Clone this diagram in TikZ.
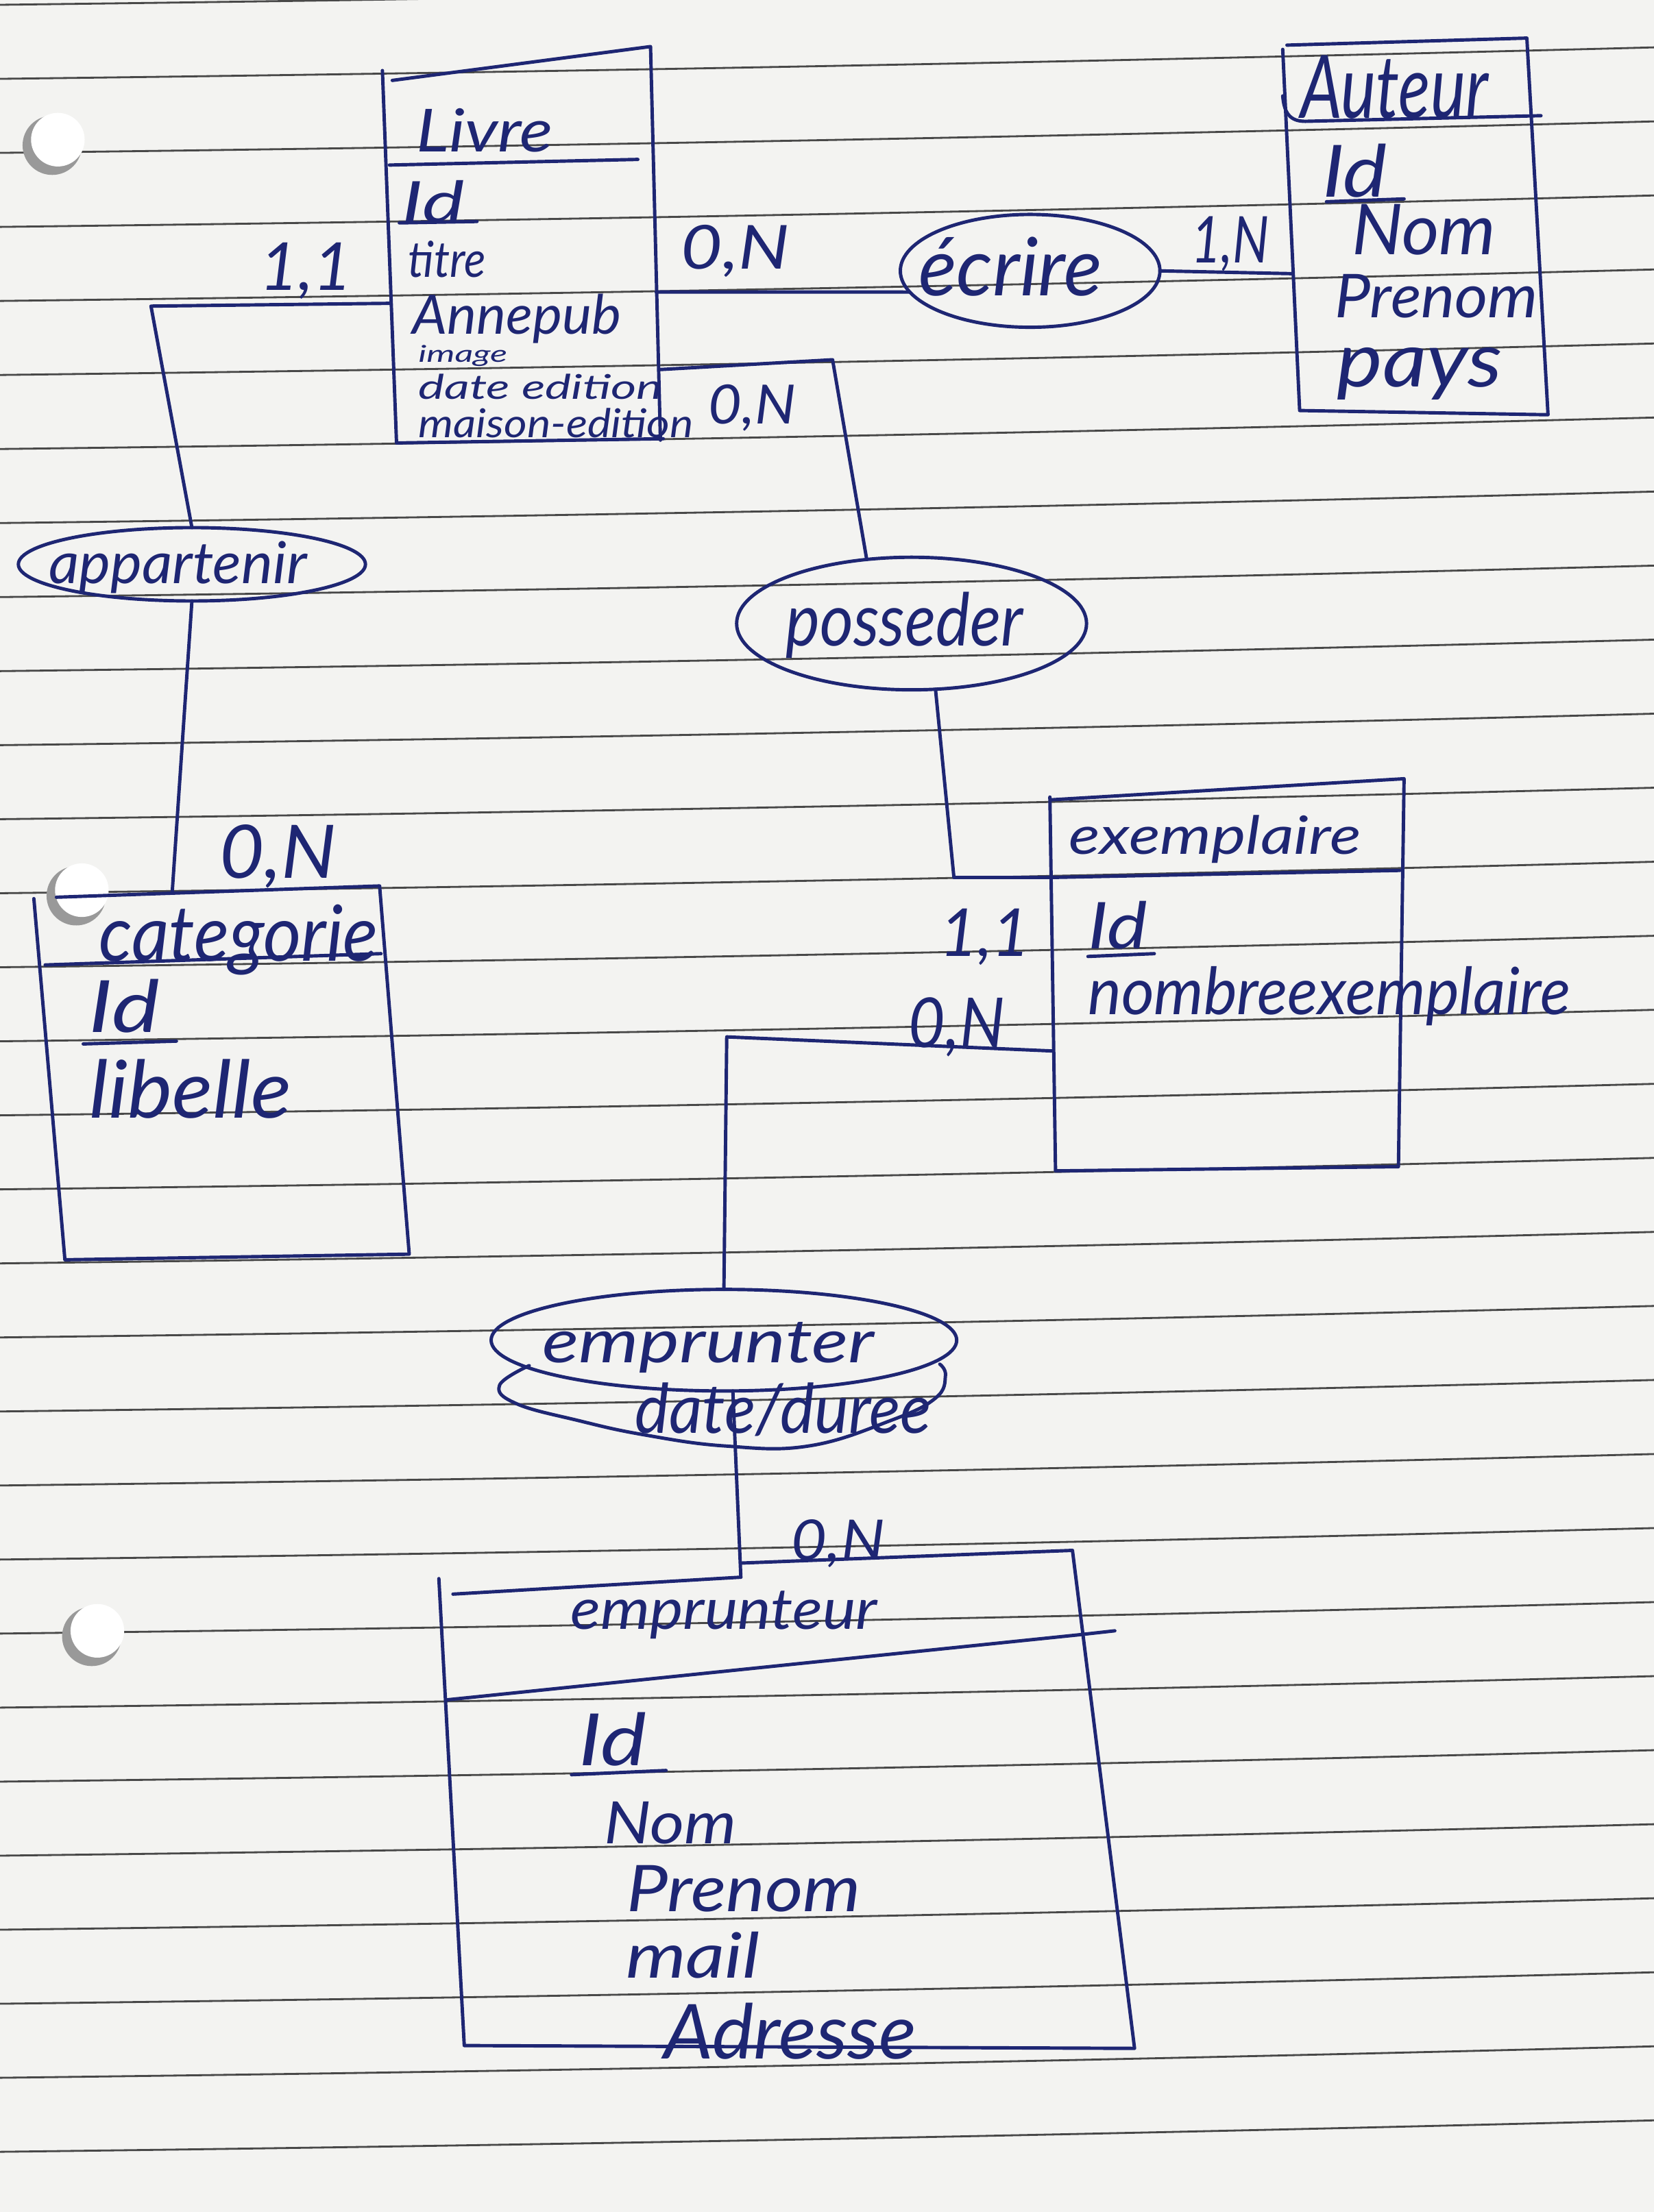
\documentclass[tikz,border=0pt]{standalone}
\usepackage{fontspec}
\setmainfont{Lato}
\usepackage{graphicx}
\usetikzlibrary{shapes.geometric}
\definecolor{ink}{RGB}{30,38,115}
\definecolor{rulegray}{RGB}{72,72,72}
\definecolor{paper}{RGB}{243,243,241}
\newlength\pxu
\setlength\pxu{0.58556pt}
\newcommand\U{0.58556pt}
% handwritten word fitted to a W x H box (in drawing units)
\newcommand\hw[3]{\resizebox*{#1\pxu}{#2\pxu}{\itshape #3}}

\begin{document}
\begin{tikzpicture}[x=0.020580cm, y=-0.020580cm,
  pen/.style={draw=ink, line width=1.4pt, line cap=round, line join=round},
  txt/.style={inner sep=0pt, outer sep=0pt, text=ink},
  rel/.style={pen, ellipse, inner sep=0pt, outer sep=0pt},
  ruled/.style={draw=rulegray, line width=0.8pt},
  hole/.style={fill=white},
  holeshade/.style={fill=black!40},
]
% sheet of ruled paper
\fill[paper] (0,0) rectangle (1172,1568);
\useasboundingbox (0,0) rectangle (1172,1568);
\foreach \k in {0,...,29} {
  \pgfmathsetmacro\yy{3.4+52.48*\k}
  \draw[ruled] (0,\yy) .. controls (390.7,\yy-4.7) and (781.3,\yy-12.1) .. (1172,\yy-22.3);
}
% punched holes
\foreach \hx/\hy in {40/100, 57/632, 68/1157} {
  \fill[holeshade] (\hx-3,\hy+3) circle[radius=21];
  \fill[hole] (\hx+1,\hy-1) circle[radius=19];
}

% ---------- entity Livre ----------
\draw[pen] (271,50) -- (281,314);
\draw[pen] (278,57) -- (461,33) -- (468,312);
\draw[pen] (281,314) -- (470,311);
\draw[pen] (276,117) -- (452,113);
\node[txt] (lvTitle) at (343.5,92.5) {\hw{97}{31}{Livre}};
\node[txt] (lvId) at (307,143) {\hw{44}{30}{Id}};
\draw[pen] (283,158) -- (338,157);
\node[txt] (lvTitre) at (317,184) {\hw{55}{26}{titre}};
\node[txt] (lvAnne) at (366,226) {\hw{148}{35}{Annepub}};
\node[txt] (lvImage) at (328,252) {\hw{63}{15}{image}};
\node[txt] (lvDate) at (383,274) {\hw{173}{18}{date edition}};
\node[txt] (lvMaison) at (394,300) {\hw{195}{21}{maison-edition}};
\coordinate (lvW) at (277,215);
\coordinate (lvE) at (465,207);
\coordinate (lvP) at (467,262);

% ---------- entity Auteur ----------
\draw[pen] (909,35) -- (921,291) -- (1097,294) -- (1082,27) -- (912,32);
\draw[pen] (909,68) .. controls (910,80) and (914,86) .. (925,86) -- (1092,82);
\node[txt] (auTitle) at (988,62) {\hw{133}{45}{Auteur}};
\node[txt] (auId) at (960,121) {\hw{46}{38}{Id}};
\draw[pen] (940,143) -- (995,141);
\node[txt] (auNom) at (1009,163) {\hw{102}{36}{Nom}};
\node[txt] (auPrenom) at (1018,210) {\hw{144}{31}{Prenom}};
\node[txt] (auPays) at (1006,265) {\hw{117}{37}{pays}};
\coordinate (auW) at (916,194);

% ---------- entity exemplaire ----------
\draw[pen] (744,565) -- (748,830) -- (991,827) -- (995,552) -- (744,567);
\draw[pen] (745,622) -- (992,617);
\node[txt] (exTitle) at (861,595) {\hw{207}{34}{exemplaire}};
\node[txt] (exId) at (792,656) {\hw{42}{34}{Id}};
\draw[pen] (771,678) -- (818,676);
\node[txt] (exNb) at (942,706) {\hw{342}{42}{nombreexemplaire}};
\coordinate (exN) at (745,622);
\coordinate (exW) at (746,745);

% ---------- entity categorie ----------
\draw[pen] (24,637) -- (46,893) -- (290,889) -- (269,628) -- (40,636);
\draw[pen] (32,684) -- (270,676);
\node[txt] (caTitle) at (169,666) {\hw{198}{50}{categorie}};
\node[txt] (caId) at (88,713) {\hw{50}{38}{Id}};
\draw[pen] (59,740) -- (125,738);
\node[txt] (caLib) at (135,772) {\hw{143}{42}{libelle}};
\coordinate (caN) at (122,633);

% ---------- entity emprunteur ----------
\draw[pen] (311,1119) -- (329,1450) -- (804,1452) -- (760,1099) -- (525,1108);
\draw[pen] (321,1130) -- (525,1118);
\draw[pen] (316,1205) -- (763,1159) -- (790,1156);
\node[txt] (euTitle) at (513,1145) {\hw{217}{34}{emprunteur}};
\node[txt] (euId) at (434,1233) {\hw{48}{38}{Id}};
\draw[pen] (405,1258) -- (472,1255);
\node[txt] (euNom) at (475,1292) {\hw{94}{30}{Nom}};
\node[txt] (euPrenom) at (527,1339) {\hw{166}{33}{Prenom}};
\node[txt] (euMail) at (491,1386) {\hw{95}{33}{mail}};
\node[txt] (euAdr) at (560,1440) {\hw{179}{40}{Adresse}};
\coordinate (euN) at (525,1118);

% ---------- relationships ----------
\node[rel, minimum width=184*\U, minimum height=80*\U] (ecr) at (730,192) {};
\node[txt] (ecrText) at (716,189) {\hw{130}{42}{écrire}};

\node[rel, minimum width=246*\U, minimum height=52*\U] (app) at (136,400) {};
\node[txt] (appText) at (126,402) {\hw{183}{37}{appartenir}};

\node[rel, minimum width=248*\U, minimum height=94*\U] (pos) at (646,442) {};
\node[txt] (posText) at (641,443) {\hw{168}{47}{posseder}};

\node[rel, minimum width=330*\U, minimum height=72*\U] (emp) at (513,950) {};
\draw[pen] plot[smooth, tension=0.7] coordinates {(375,968) (354,982) (366,995) (410,1007) (456,1017) (514,1025) (573,1025) (631,1007) (663,991) (670,975) (666,967)};
\node[txt] (empText) at (502,955) {\hw{235}{36}{emprunter}};
\node[txt] (empAttr) at (555,999) {\hw{210}{38}{date/duree}};

% ---------- connectors ----------
\coordinate (b1) at (107,217);
\coordinate (b2) at (590,255);
\coordinate (b3) at (676,622);
\coordinate (b4) at (515,735);

\draw[pen] (lvW) -- (b1) -- (app.north);
\draw[pen] (app.south) -- (caN);
\draw[pen] (lvE) -- (ecr.190);
\draw[pen] (ecr.east) -- (auW);
\draw[pen] (lvP) -- (b2) -- (pos.125);
\draw[pen] (pos.-70) -- (b3) -- (exN);
\draw[pen] (exW) -- (b4) -- (emp.north);
\draw[pen] (emp.-80) -- (euN);

% ---------- cardinalities ----------
\node[txt] (c1) at (217,192) {\hw{65}{40}{1,1}};
\node[txt] (c2) at (521,178) {\hw{77}{37}{0,N}};
\node[txt] (c3) at (872,173) {\hw{55}{39}{1,N}};
\node[txt] (c4) at (533,289) {\hw{62}{33}{0,N}};
\node[txt] (c5) at (197,607) {\hw{83}{45}{0,N}};
\node[txt] (c6) at (698,664) {\hw{64}{40}{1,1}};
\node[txt] (c7) at (678,728) {\hw{68}{42}{0,N}};
\node[txt] (c8) at (594,1094) {\hw{66}{34}{0,N}};
\end{tikzpicture}
\end{document}
